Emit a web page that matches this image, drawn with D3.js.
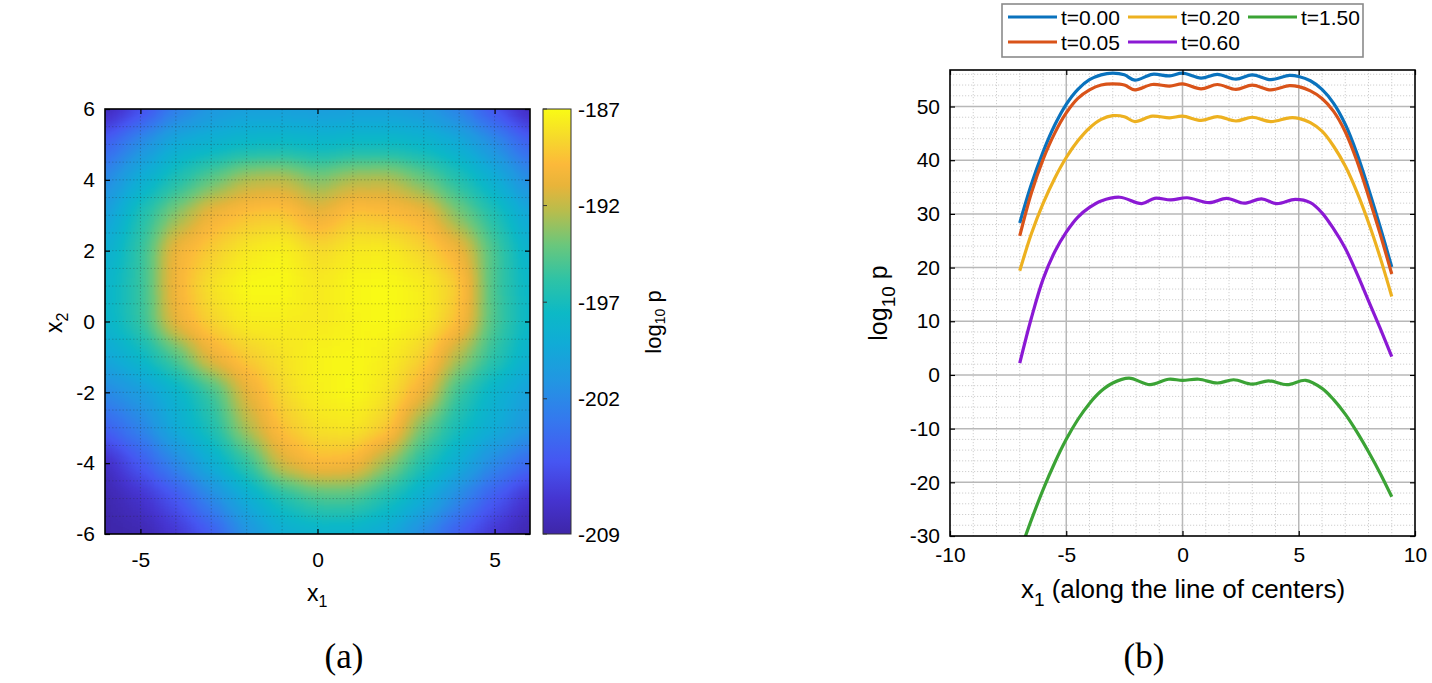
<!DOCTYPE html>
<html>
<head>
<meta charset="utf-8">
<script src="https://cdn.jsdelivr.net/npm/d3@7"></script>
<style>
  body { margin: 0; background: #fff; }
  text { font-family: "Liberation Sans", Arial, Helvetica, sans-serif; fill: #000; }
  .cap { font-family: "Liberation Serif", "DejaVu Serif", serif; }
</style>
</head>
<body>
<svg id="chart" width="1432" height="683"></svg>
<script>
// ---------- data: panel (a), log10 p read on a 1-unit grid ----------
const gridX = [-6, -5, -4, -3, -2, -1, 0, 1, 2, 3, 4, 5, 6];
const gridY = [6, 5, 4, 3, 2, 1, 0, -1, -2, -3, -4, -5, -6];
const row6  = [-208.5, -206.0, -202.8, -201.0, -200.3, -200.3, -200.5, -200.3, -200.3, -200.8, -202.5, -205.5, -208.3];
const row5  = [-204.6, -201.5, -199.0, -198.3, -197.6, -197.4, -197.9, -197.4, -197.4, -197.9, -199.0, -201.5, -204.5];
const row4  = [-202.0, -198.8, -196.5, -194.3, -192.3, -192.0, -193.6, -192.3, -192.2, -194.0, -196.3, -198.7, -201.8];
const row3  = [-200.3, -196.5, -193.2, -190.4, -189.3, -189.0, -190.8, -189.2, -189.5, -190.2, -193.6, -196.4, -199.6];
const row2  = [-198.8, -195.8, -190.4, -189.0, -187.8, -187.3, -188.5, -187.7, -187.6, -188.6, -190.4, -195.0, -198.5];
const row1  = [-198.2, -195.8, -190.2, -188.0, -187.0, -187.0, -187.8, -187.1, -187.0, -187.5, -189.0, -195.2, -198.0];
const row0  = [-198.1, -195.8, -190.6, -188.6, -187.5, -187.5, -187.8, -187.3, -187.0, -187.6, -189.5, -195.0, -197.8];
const rowM1 = [-199.6, -197.6, -194.8, -190.6, -189.0, -188.0, -187.3, -187.1, -187.5, -188.8, -192.5, -196.0, -198.6];
const rowM2 = [-202.0, -200.5, -198.3, -195.5, -191.0, -188.5, -187.4, -187.0, -188.0, -190.5, -195.6, -198.3, -200.2];
const rowM3 = [-204.6, -202.3, -199.0, -196.6, -192.4, -189.3, -188.0, -187.8, -189.0, -194.0, -197.0, -199.0, -201.0];
const rowM4 = [-208.0, -205.0, -202.0, -198.8, -195.8, -191.3, -189.8, -190.0, -193.0, -196.4, -199.0, -202.0, -204.2];
const rowM5 = [-208.8, -207.5, -205.3, -202.0, -199.0, -196.6, -195.0, -195.0, -196.7, -199.0, -202.0, -205.0, -207.5];
const rowM6 = [-209.0, -208.7, -207.2, -205.0, -201.3, -199.0, -198.4, -198.5, -199.3, -202.0, -205.0, -207.3, -208.8];
const heatRows = [row6, row5, row4, row3, row2, row1, row0, rowM1, rowM2, rowM3, rowM4, rowM5, rowM6];

const xTicksA = [-5, 0, 5];
const yTicksA = [-6, -4, -2, 0, 2, 4, 6];
const cbTicks = [-187, -192, -197, -202, -209];

// ---------- data: panel (b), log10 p along the line of centers ----------
const xA = [-7, -6.5, -6, -5.5, -5, -4.5, -4, -3.5, -3, -2.5, -2.05, -1.3, -0.55, 0, 0.8, 1.5, 2.3, 3.0, 3.8, 4.6, 5.0, 5.5, 6, 6.5, 7, 7.5, 8, 8.5, 9];
const yT000 = [28.3, 35.5, 41.5, 46.5, 50.4, 53.2, 55.0, 55.9, 56.2, 55.9, 54.9, 56.0, 55.7, 56.2, 55.3, 56.0, 55.1, 55.9, 55.0, 55.8, 55.6, 54.8, 53.2, 50.6, 46.7, 41.3, 34.7, 27.6, 20.1];
const yT005 = [25.9, 33.9, 40.1, 45.0, 48.8, 51.5, 53.1, 54.0, 54.2, 54.0, 53.1, 54.1, 53.8, 54.2, 53.3, 54.1, 53.2, 54.0, 53.1, 53.9, 53.7, 52.9, 51.5, 49.1, 45.3, 39.9, 33.3, 26.3, 18.8];
const yT020 = [19.4, 26.3, 31.9, 36.6, 40.5, 43.6, 46.0, 47.6, 48.3, 48.1, 47.2, 48.2, 47.9, 48.2, 47.4, 48.1, 47.3, 48.0, 47.2, 47.9, 47.8, 47.0, 45.4, 42.6, 38.9, 34.1, 28.4, 21.9, 14.6];
const xP = [-7, -6.5, -6, -5.5, -5, -4.5, -4, -3.5, -2.7, -1.75, -1.2, -0.5, 0.2, 1.15, 1.9, 2.65, 3.4, 4.05, 4.85, 5.5, 6, 6.5, 7, 7.5, 8, 8.5, 9];
const yT060 = [2.2, 10.6, 17.8, 22.9, 26.6, 29.4, 31.2, 32.4, 33.1, 31.9, 32.9, 32.6, 33.0, 32.1, 32.9, 32.0, 32.8, 31.9, 32.7, 32.1, 30.2, 27.2, 23.6, 18.9, 13.8, 8.7, 3.4];
const xG = [-7, -6.5, -6, -5.5, -5, -4.5, -4, -3.5, -3, -2.3, -1.4, -0.6, 0, 0.7, 1.5, 2.2, 3.0, 3.7, 4.5, 5.3, 6, 6.5, 7, 7.5, 8, 8.5, 9];
const yT150 = [-33.0, -27.0, -21.4, -16.4, -12.0, -8.3, -5.3, -3.0, -1.5, -0.6, -1.8, -0.8, -1.0, -0.8, -1.5, -0.9, -1.7, -1.1, -1.8, -1.0, -2.5, -4.6, -7.3, -10.6, -14.3, -18.3, -22.7];

const seriesNames = ["t=0.00", "t=0.05", "t=0.20", "t=0.60", "t=1.50"];
const seriesX = [xA, xA, xA, xP, xG];
const seriesY = [yT000, yT005, yT020, yT060, yT150];
const seriesColors = ["#0a72bd", "#d95319", "#edb120", "#8b19d4", "#3ba335"];

const xTicksB = [-10, -5, 0, 5, 10];
const yTicksB = [-30, -20, -10, 0, 10, 20, 30, 40, 50];

// parula-like colour map
const parulaStops  = [0, 0.08, 0.17, 0.27, 0.36, 0.45, 0.52, 0.60, 0.68, 0.76, 0.82, 0.87, 0.93, 1];
const parulaColors = ["#3e26a8", "#4534d0", "#4656f2", "#3479ee", "#2296e2", "#10acd6", "#0cb9c6",
                      "#2fc3a5", "#6ac77c", "#b8bd4c", "#e8b43a", "#fcb93a", "#f6d82c", "#f9fb15"];

const W = 1432, H = 683;
const svg = d3.select("#chart");
const defs = svg.append("defs");
const fmt = d => String(d);

function frameAxes(g, x, y, xt, yt, xPad, yPad, fs) {
  const [x0, x1] = x.range(), [y1, y0] = y.range();
  const style = sel => {
    sel.select(".domain").remove();
    sel.selectAll(".tick line").attr("stroke", "#000").attr("stroke-width", 1.2);
    sel.selectAll("text").style("font-size", fs + "px").attr("fill", "#000");
  };
  g.append("g").attr("transform", `translate(0,${y1})`)
    .call(d3.axisBottom(x).tickValues(xt).tickSize(-5).tickPadding(xPad).tickFormat(fmt)).call(style);
  g.append("g").attr("transform", `translate(0,${y0})`)
    .call(d3.axisTop(x).tickValues(xt).tickSize(-5).tickFormat("")).call(style);
  g.append("g").attr("transform", `translate(${x0},0)`)
    .call(d3.axisLeft(y).tickValues(yt).tickSize(-5).tickPadding(yPad).tickFormat(fmt)).call(style);
  g.append("g").attr("transform", `translate(${x1},0)`)
    .call(d3.axisRight(y).tickValues(yt).tickSize(-5).tickFormat("")).call(style);
  g.append("rect").attr("x", x0).attr("y", y0).attr("width", x1 - x0).attr("height", y1 - y0)
    .attr("fill", "none").attr("stroke", "#000").attr("stroke-width", 1.6);
}

// ================= panel (a) =================
const ax = d3.scaleLinear().domain([-6, 6]).range([105, 530]);
const ay = d3.scaleLinear().domain([-6, 6]).range([534, 109]);
const cval = d3.scaleLinear().domain([-209, -187]).range([0, 1]).clamp(true);
const cmap = d3.scaleLinear().domain(parulaStops).range(parulaColors);

// cells are drawn as grey levels (value), smoothed, then coloured by a lookup table
const grey = v => { const g = Math.round(255 * cval(v)); return `rgb(${g},${g},${g})`; };
const lut = d3.range(65).map(k => d3.rgb(cmap(k / 64)));

defs.append("clipPath").attr("id", "clipA").append("rect")
  .attr("x", 105).attr("y", 109).attr("width", 425).attr("height", 425);
const filt = defs.append("filter").attr("id", "smooth").attr("filterUnits", "userSpaceOnUse")
  .attr("color-interpolation-filters", "sRGB")
  .attr("x", 0).attr("y", 0).attr("width", W).attr("height", H);
filt.append("feGaussianBlur").attr("stdDeviation", 13);
const ct = filt.append("feComponentTransfer");
[["feFuncR", "r"], ["feFuncG", "g"], ["feFuncB", "b"]].forEach(([f, c]) =>
  ct.append(f).attr("type", "table").attr("tableValues", lut.map(q => (q[c] / 255).toFixed(4)).join(" ")));

const cells = [];
heatRows.forEach((row, j) => row.forEach((v, i) => cells.push({ x: gridX[i], y: gridY[j], v, i, j })));
const last = gridX.length - 1;
const cLo = d => d.x - (d.i === 0 ? 2 : 0.5), cHi = d => d.x + (d.i === last ? 2 : 0.5);
const cTop = d => d.y + (d.j === 0 ? 2 : 0.5), cBot = d => d.y - (d.j === last ? 2 : 0.5);

const gA = svg.append("g");
gA.append("g").attr("clip-path", "url(#clipA)")
  .append("g").attr("filter", "url(#smooth)")
  .selectAll("rect").data(cells).join("rect")
  .attr("x", d => ax(cLo(d))).attr("width", d => ax(cHi(d)) - ax(cLo(d)) + 0.6)
  .attr("y", d => ay(cTop(d))).attr("height", d => ay(cBot(d)) - ay(cTop(d)) + 0.6)
  .attr("fill", d => grey(d.v));

// dotted grid over the image
const gridA = gA.append("g").attr("stroke", "rgba(40,40,40,0.28)").attr("stroke-width", 1)
  .attr("stroke-dasharray", "1.5,2");
gridA.selectAll(".gv").data(d3.range(-5, 6)).join("line")
  .attr("x1", d => ax(d)).attr("x2", d => ax(d)).attr("y1", ay(6)).attr("y2", ay(-6));
gridA.selectAll(".gh").data(d3.range(-5.5, 6, 0.5)).join("line")
  .attr("y1", d => ay(d)).attr("y2", d => ay(d)).attr("x1", ax(-6)).attr("x2", ax(6));

frameAxes(gA, ax, ay, xTicksA, yTicksA, 18, 10, 21);

gA.append("text").attr("x", 307).attr("y", 601).style("font-size", "23px")
  .html('x<tspan dy="6" style="font-size:16px">1</tspan>');
gA.append("text").attr("transform", "translate(62,333) rotate(-90)").style("font-size", "23px")
  .html('x<tspan dy="6" style="font-size:16px">2</tspan>');

// colour bar
const cy = d3.scaleLinear().domain([-209, -187]).range([534, 109]);
const grad = defs.append("linearGradient").attr("id", "cbar").attr("x1", 0).attr("y1", 1).attr("x2", 0).attr("y2", 0);
grad.selectAll("stop").data(parulaStops).join("stop")
  .attr("offset", d => d).attr("stop-color", (d, i) => parulaColors[i]);
gA.append("rect").attr("x", 543).attr("y", cy(-187)).attr("width", 28).attr("height", cy(-209) - cy(-187))
  .attr("fill", "url(#cbar)").attr("stroke", "#333").attr("stroke-width", 1);
gA.selectAll(".cbt").data(cbTicks).join("line")
  .attr("x1", 543).attr("x2", 547).attr("y1", d => cy(d)).attr("y2", d => cy(d))
  .attr("stroke", "#333").attr("stroke-width", 1);
gA.selectAll(".cbl").data(cbTicks).join("text")
  .attr("x", 578).attr("y", d => cy(d)).attr("dy", "0.36em").style("font-size", "21px").text(fmt);
gA.append("text").attr("transform", "translate(661,322) rotate(-90)").attr("text-anchor", "middle")
  .style("font-size", "22px")
  .html('log<tspan dy="4" style="font-size:14px">10</tspan><tspan dy="-4"> p</tspan>');

// ================= panel (b) =================
const bx = d3.scaleLinear().domain([-10, 10]).range([950, 1415]);
const by = d3.scaleLinear().domain([-30, 56.8]).range([536, 70]);
const gB = svg.append("g");

gB.append("rect").attr("x", 950).attr("y", 70).attr("width", 465).attr("height", 466).attr("fill", "#fff");
const minor = gB.append("g").attr("stroke", "#cfcfcf").attr("stroke-width", 1).attr("stroke-dasharray", "1.2,1.8");
minor.selectAll(".mv").data(d3.range(-9, 10).filter(d => d % 5 !== 0)).join("line")
  .attr("x1", d => bx(d)).attr("x2", d => bx(d)).attr("y1", 70).attr("y2", 536);
minor.selectAll(".mh").data(d3.range(-28, 57, 2).filter(d => d % 10 !== 0)).join("line")
  .attr("y1", d => by(d)).attr("y2", d => by(d)).attr("x1", 950).attr("x2", 1415);
const major = gB.append("g").attr("stroke", "#b8b8b8").attr("stroke-width", 1.5);
major.selectAll(".Mv").data([-5, 0, 5]).join("line")
  .attr("x1", d => bx(d)).attr("x2", d => bx(d)).attr("y1", 70).attr("y2", 536);
major.selectAll(".Mh").data([-20, -10, 0, 10, 20, 30, 40, 50]).join("line")
  .attr("y1", d => by(d)).attr("y2", d => by(d)).attr("x1", 950).attr("x2", 1415);

defs.append("clipPath").attr("id", "clipB").append("rect")
  .attr("x", 950).attr("y", 70).attr("width", 465).attr("height", 466);
const line = d3.line().curve(d3.curveCatmullRom.alpha(0.5));
gB.append("g").attr("clip-path", "url(#clipB)")
  .selectAll("path").data(seriesNames).join("path")
  .attr("d", (n, k) => line(seriesX[k].map((xv, i) => [bx(xv), by(seriesY[k][i])])))
  .attr("fill", "none").attr("stroke", (n, k) => seriesColors[k]).attr("stroke-width", 3.2)
  .attr("stroke-linejoin", "round");

frameAxes(gB, bx, by, xTicksB, yTicksB, 11, 10, 21);

gB.append("text").attr("x", 1183).attr("y", 598).attr("text-anchor", "middle").style("font-size", "26px")
  .html('x<tspan dy="8" style="font-size:19px">1</tspan><tspan dy="-8"> (along the line of centers)</tspan>');
gB.append("text").attr("transform", "translate(887,303) rotate(-90)").attr("text-anchor", "middle")
  .style("font-size", "25px")
  .html('log<tspan dy="8" style="font-size:19px">10</tspan><tspan dy="-8"> p</tspan>');

// legend (column-major, 3 columns)
const leg = gB.append("g");
leg.append("rect").attr("x", 1002).attr("y", 4).attr("width", 361).attr("height", 53)
  .attr("fill", "#fff").attr("stroke", "#8a8a8a").attr("stroke-width", 1.6);
const colX = [1008, 1128, 1248], rowY = [17, 42];
seriesNames.forEach((n, k) => {
  const cx = colX[Math.floor(k / 2)], ry = rowY[k % 2];
  leg.append("line").attr("x1", cx).attr("x2", cx + 49).attr("y1", ry).attr("y2", ry)
    .attr("stroke", seriesColors[k]).attr("stroke-width", 3.2);
  leg.append("text").attr("x", cx + 53).attr("y", ry).attr("dy", "0.36em").style("font-size", "21px").text(n);
});

// captions
svg.append("text").attr("class", "cap").attr("x", 344).attr("y", 668).attr("text-anchor", "middle")
  .style("font-size", "35px").text("(a)");
svg.append("text").attr("class", "cap").attr("x", 1144).attr("y", 668).attr("text-anchor", "middle")
  .style("font-size", "35px").text("(b)");
</script>
</body>
</html>
